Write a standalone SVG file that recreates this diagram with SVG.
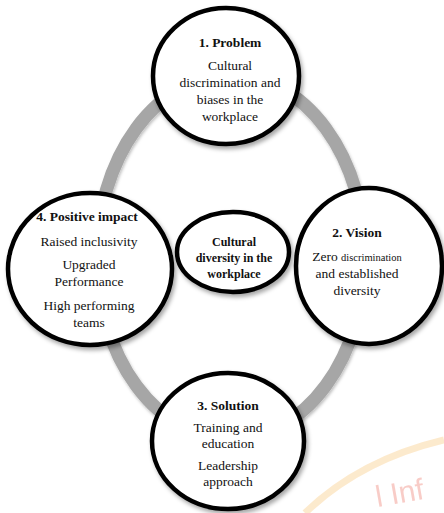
<svg xmlns="http://www.w3.org/2000/svg" width="444" height="513" viewBox="0 0 444 513">
  <defs>
    <filter id="shadow" x="-20%" y="-20%" width="140%" height="140%">
      <feDropShadow dx="2" dy="3" stdDeviation="2" flood-color="#000" flood-opacity="0.35"/>
    </filter>
    <filter id="soft" x="-10%" y="-10%" width="120%" height="120%">
      <feDropShadow dx="1" dy="2" stdDeviation="1.5" flood-color="#000" flood-opacity="0.25"/>
    </filter>
  </defs>
  <style>
    .node { fill: #ffffff; stroke: #000000; stroke-width: 4.5; filter: url(#shadow); }
    .ring { fill: none; stroke: #a6a6a6; stroke-width: 13; filter: url(#soft); }
    .lbl { font-family: 'Liberation Serif', 'DejaVu Serif', serif; fill: #111111; text-anchor: middle; }
    .title { font-size: 13.5px; font-weight: bold; }
    .body { font-size: 13.5px; }
    .hub { font-size: 12px; font-weight: bold; }
    .mark { font-family: 'Liberation Sans', sans-serif; font-size: 30px; fill: #f3a39a; text-anchor: middle; }
  </style>
  <rect width="444" height="513" fill="#ffffff"/>

  <!-- faint background mark, lower right -->
  <g id="mark" opacity="0.55">
    <path d="M 305 513 Q 360 460 444 440" fill="none" stroke="#fbd9a6" stroke-width="7"/>
    <text class="mark" x="400" y="503" transform="rotate(-10 400 495)">l Inf</text>
  </g>

  <!-- cycle ring -->
  <g id="connectors">
    <ellipse class="ring" cx="231" cy="257" rx="134" ry="182"/>
  </g>

  <g id="problem">
    <ellipse class="node" cx="226" cy="76" rx="73" ry="68"/>
    <text class="lbl title" x="230" y="47">1. Problem</text>
    <text class="lbl body" x="230" y="70">Cultural</text>
    <text class="lbl body" x="230" y="87">discrimination and</text>
    <text class="lbl body" x="230" y="104">biases in the</text>
    <text class="lbl body" x="230" y="121">workplace</text>
  </g>

  <g id="vision">
    <ellipse class="node" cx="369" cy="266" rx="73" ry="78"/>
    <text class="lbl title" x="357" y="237">2. Vision</text>
    <text class="lbl body" x="357" y="261">Zero <tspan font-size="10.5">discrimination</tspan></text>
    <text class="lbl body" x="357" y="278">and established</text>
    <text class="lbl body" x="357" y="295">diversity</text>
  </g>

  <g id="solution">
    <ellipse class="node" cx="228" cy="441" rx="76" ry="68"/>
    <text class="lbl title" x="228" y="410">3. Solution</text>
    <text class="lbl body" x="228" y="432">Training and</text>
    <text class="lbl body" x="228" y="448">education</text>
    <text class="lbl body" x="228" y="470">Leadership</text>
    <text class="lbl body" x="228" y="486">approach</text>
  </g>

  <g id="impact">
    <ellipse class="node" cx="90" cy="269" rx="82" ry="76"/>
    <text class="lbl title" x="87" y="221">4. Positive impact</text>
    <text class="lbl body" x="89" y="246">Raised inclusivity</text>
    <text class="lbl body" x="89" y="269">Upgraded</text>
    <text class="lbl body" x="89" y="286">Performance</text>
    <text class="lbl body" x="89" y="310">High performing</text>
    <text class="lbl body" x="89" y="327">teams</text>
  </g>

  <g id="hub">
    <ellipse class="node" cx="233" cy="252" rx="56" ry="40"/>
    <text class="lbl hub" x="234" y="246">Cultural</text>
    <text class="lbl hub" x="234" y="262">diversity in the</text>
    <text class="lbl hub" x="234" y="278">workplace</text>
  </g>
</svg>
